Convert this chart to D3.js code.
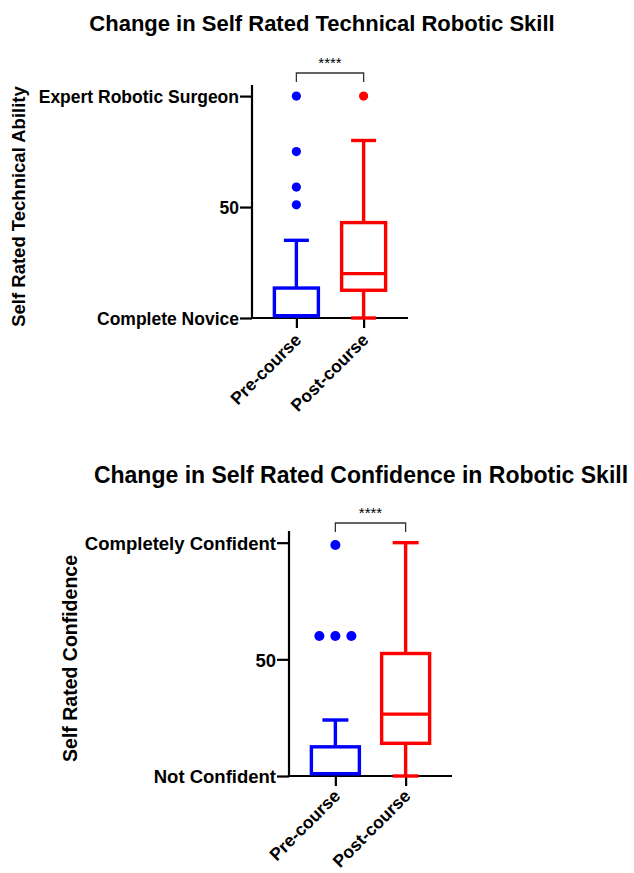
<!DOCTYPE html>
<html>
<head>
<meta charset="utf-8">
<script src="https://cdn.jsdelivr.net/npm/d3@7/dist/d3.min.js"></script>
<style>
  body { margin: 0; background: #fff; }
  text { font-family: "Liberation Sans", Arial, sans-serif; font-weight: bold; fill: #000; }
</style>
</head>
<body>
<svg id="chart" width="634" height="873"></svg>
<script>
// groups and colours
var groups = ["Pre-course", "Post-course"];
var groupColors = ["#0000ff", "#ff0000"];
var yTicks = [0, 50, 100];

// chart 1 - technical skill (0-100 slider)
var skillTickLabels = ["Complete Novice", "50", "Expert Robotic Surgeon"];
var skillMin = [1, 0];
var skillQ1 = [1, 12.5];
var skillMedian = [1, 20];
var skillQ3 = [13.5, 43];
var skillMax = [35, 80];
var skillOutliers = [[100, 75, 59, 51], [100]];

// chart 2 - confidence
var confTickLabels = ["Not Confident", "50", "Completely Confident"];
var confMin = [1, 0];
var confQ1 = [1, 14];
var confMedian = [1, 26.5];
var confQ3 = [12.5, 52.5];
var confMax = [24, 100];
var confOutliers = [[99, 60, 60, 60], []];

var svg = d3.select("#chart");

drawChart({
	title: "Change in Self Rated Technical Robotic Skill",
	titleX: 322, titleY: 31, titleSize: 22,
	yTitle: "Self Rated Technical Ability",
	yTitleX: 25, yTitleSize: 18.5,
	labelSize: 17.5, xLabelSize: 17.5, xLabelDy: 23,
	left: 252, right: 408, top: 85, bottom: 318,
	boxW: 44, capW: 25, dotR: 4.6,
	tickLabels: skillTickLabels,
	min: skillMin, q1: skillQ1, med: skillMedian, q3: skillQ3, max: skillMax, out: skillOutliers,
	bracketY: 73
});

drawChart({
	title: "Change in Self Rated Confidence in Robotic Skill",
	titleX: 361, titleY: 483, titleSize: 23,
	yTitle: "Self Rated Confidence",
	yTitleX: 77, yTitleSize: 19.5,
	labelSize: 18.5, xLabelSize: 17.5, xLabelDy: 21,
	left: 289, right: 452, top: 531, bottom: 776,
	boxW: 48, capW: 26, dotR: 5,
	tickLabels: confTickLabels,
	min: confMin, q1: confQ1, med: confMedian, q3: confQ3, max: confMax, out: confOutliers,
	bracketY: 523
});

function drawChart(c){
	var g = svg.append("g");

	var y = d3.scaleLinear().domain([0, 105]).range([c.bottom, c.top]);
	var x = d3.scalePoint().domain(groups).range([c.left, c.right]).padding(0.66);

	// title
	g.append("text")
		.attr("x", c.titleX).attr("y", c.titleY)
		.attr("text-anchor", "middle")
		.style("font-size", c.titleSize + "px")
		.text(c.title);

	// y axis
	var yAxis = d3.axisLeft(y)
		.tickValues(yTicks)
		.tickSize(12)
		.tickPadding(1)
		.tickFormat(function(d, i){ return c.tickLabels[i]; });

	var ya = g.append("g")
		.attr("transform", "translate(" + c.left + ",0)")
		.call(yAxis);
	ya.select(".domain").attr("d", "M0," + c.top + "V" + c.bottom).attr("stroke-width", 2.2);
	ya.selectAll(".tick line").attr("stroke-width", 2.2);
	ya.selectAll(".tick text").style("font-size", c.labelSize + "px").attr("dy", "0.36em");

	// x axis
	var xAxis = d3.axisBottom(x).tickSize(10).tickFormat("");
	var xa = g.append("g")
		.attr("transform", "translate(0," + c.bottom + ")")
		.call(xAxis);
	xa.select(".domain").attr("d", "M" + c.left + ",0H" + c.right).attr("stroke-width", 2.2);
	xa.selectAll(".tick line").attr("stroke-width", 2.2);

	// rotated category labels
	g.selectAll(".xlab")
		.data(groups)
		.enter().append("text")
		.attr("class", "xlab")
		.attr("text-anchor", "end")
		.attr("transform", function(d){ return "translate(" + (x(d) + 6) + "," + (c.bottom + c.xLabelDy) + ") rotate(-45)"; })
		.style("font-size", c.xLabelSize + "px")
		.text(function(d){ return d; });

	// y title
	g.append("text")
		.attr("text-anchor", "middle")
		.attr("transform", "translate(" + c.yTitleX + "," + ((c.top + c.bottom) / 2 + 5) + ") rotate(-90)")
		.style("font-size", c.yTitleSize + "px")
		.text(c.yTitle);

	// boxes
	var boxes = g.selectAll(".box")
		.data(groups)
		.enter().append("g")
		.attr("class", "box")
		.attr("fill", "none")
		.attr("stroke-width", 3.4)
		.attr("stroke", function(d, i){ return groupColors[i]; });

	// whiskers
	boxes.append("line")
		.attr("x1", function(d){ return x(d); })
		.attr("x2", function(d){ return x(d); })
		.attr("y1", function(d, i){ return y(c.q3[i]); })
		.attr("y2", function(d, i){ return y(c.max[i]); });
	boxes.append("line")
		.attr("x1", function(d){ return x(d); })
		.attr("x2", function(d){ return x(d); })
		.attr("y1", function(d, i){ return y(c.q1[i]); })
		.attr("y2", function(d, i){ return y(c.min[i]); });
	// caps
	boxes.append("line")
		.attr("x1", function(d){ return x(d) - c.capW / 2; })
		.attr("x2", function(d){ return x(d) + c.capW / 2; })
		.attr("y1", function(d, i){ return y(c.max[i]); })
		.attr("y2", function(d, i){ return y(c.max[i]); });
	boxes.append("line")
		.filter(function(d, i){ return c.min[i] < c.q1[i]; })
		.attr("x1", function(d){ return x(d) - c.capW / 2; })
		.attr("x2", function(d){ return x(d) + c.capW / 2; })
		.attr("y1", function(d){ var i = groups.indexOf(d); return y(c.min[i]); })
		.attr("y2", function(d){ var i = groups.indexOf(d); return y(c.min[i]); });
	// box
	boxes.append("rect")
		.attr("fill", "#fff")
		.attr("x", function(d){ return x(d) - c.boxW / 2; })
		.attr("width", c.boxW)
		.attr("y", function(d, i){ return y(c.q3[i]); })
		.attr("height", function(d, i){ return y(c.q1[i]) - y(c.q3[i]); });
	// median
	boxes.append("line")
		.attr("x1", function(d){ return x(d) - c.boxW / 2; })
		.attr("x2", function(d){ return x(d) + c.boxW / 2; })
		.attr("y1", function(d, i){ return y(c.med[i]); })
		.attr("y2", function(d, i){ return y(c.med[i]); });

	// outliers, equal values spread sideways
	var pts = [];
	groups.forEach(function(grp, i){
		var counts = d3.rollup(c.out[i], function(v){ return v.length; }, function(v){ return v; });
		var seen = new Map();
		c.out[i].forEach(function(v){
			var n = counts.get(v);
			var k = seen.get(v) || 0;
			seen.set(v, k + 1);
			pts.push({ g: i, v: v, off: (k - (n - 1) / 2) * c.dotR * 3.2 });
		});
	});
	g.selectAll(".dot")
		.data(pts)
		.enter().append("circle")
		.attr("class", "dot")
		.attr("cx", function(d){ return x(groups[d.g]) + d.off; })
		.attr("cy", function(d){ return y(d.v); })
		.attr("r", c.dotR)
		.attr("fill", function(d){ return groupColors[d.g]; });

	// significance bracket
	var x0 = x(groups[0]), x1 = x(groups[1]);
	g.append("path")
		.attr("d", "M" + x0 + "," + (c.bracketY + 9) + "V" + c.bracketY + "H" + x1 + "V" + (c.bracketY + 9))
		.attr("fill", "none")
		.attr("stroke", "#333")
		.attr("stroke-width", 1.3);
	g.append("text")
		.attr("x", (x0 + x1) / 2).attr("y", c.bracketY - 5)
		.attr("text-anchor", "middle")
		.style("font-size", "15px")
		.style("font-weight", "normal")
		.text("****");
}
</script>
</body>
</html>
